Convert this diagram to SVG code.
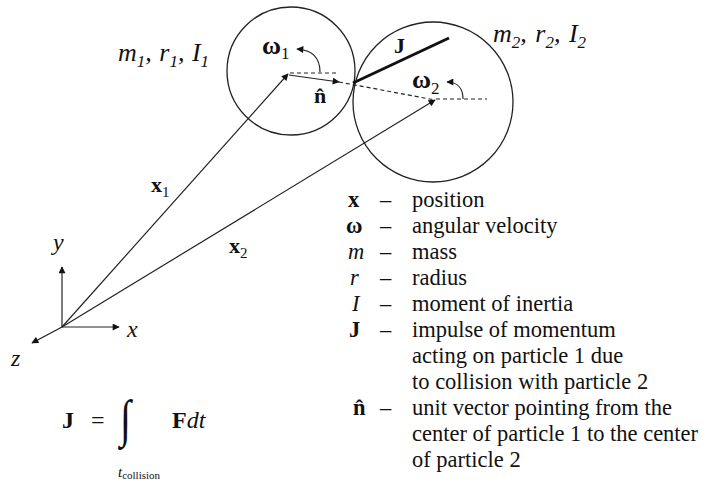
<svg xmlns="http://www.w3.org/2000/svg" width="709" height="489" viewBox="0 0 709 489" font-family="'Liberation Serif', 'DejaVu Serif', serif">
<style>
  text { font-family: 'Liberation Serif', 'DejaVu Serif', serif; fill: #111; }
  .it { font-style: italic; }
  .b { font-weight: bold; }
  .lg { font-size: 22.5px; }
  .ln { stroke: #222; stroke-width: 1.2; fill: none; }
  .dash { stroke: #222; stroke-width: 1.2; fill: none; stroke-dasharray: 4 3; }
  .circ { stroke: #222; stroke-width: 1.3; fill: none; }
</style>
<defs>
  <marker id="ah" viewBox="0 0 10 10" refX="9" refY="5" markerWidth="9" markerHeight="7" markerUnits="userSpaceOnUse" orient="auto">
    <path d="M0,0 L10,5 L0,10 z" fill="#111"/>
  </marker>
</defs>
<rect width="709" height="489" fill="#fff"/>

<g id="particle1">
  <circle class="circ" cx="291" cy="71" r="64"/>
  <text x="118" y="61" font-size="26" class="it">m<tspan font-size="17" dy="6">1</tspan><tspan dy="-6">, </tspan><tspan dx="1">r</tspan><tspan font-size="17" dy="6">1</tspan><tspan dy="-6">, </tspan><tspan dx="1">I</tspan><tspan font-size="17" dy="6">1</tspan></text>
  <text x="262" y="54" font-size="26" class="b">ω<tspan font-size="17" font-weight="normal" dy="5">1</tspan></text>
  <text x="314" y="103" font-size="22" class="b">n̂</text>
</g>

<g id="particle2">
  <circle class="circ" cx="433" cy="102" r="80"/>
  <text x="493" y="42" font-size="26" class="it">m<tspan font-size="17" dy="6">2</tspan><tspan dy="-6">, </tspan><tspan dx="2">r</tspan><tspan font-size="17" dy="6">2</tspan><tspan dy="-6">, </tspan><tspan dx="2">I</tspan><tspan font-size="17" dy="6">2</tspan></text>
  <text x="412" y="88" font-size="26" class="b">ω<tspan font-size="17" font-weight="normal" dy="6">2</tspan></text>
  <text x="394" y="53" font-size="22" class="b">J</text>
</g>

<g id="axes">
  <line class="ln" x1="62" y1="327" x2="62" y2="267" marker-end="url(#ah)"/>
  <line class="ln" x1="62" y1="327" x2="119" y2="327" marker-end="url(#ah)"/>
  <line class="ln" x1="62" y1="327" x2="32" y2="343" marker-end="url(#ah)"/>
  <text x="53" y="250" font-size="24" class="it">y</text>
  <text x="127" y="337" font-size="24" class="it">x</text>
  <text x="11" y="366" font-size="24" class="it">z</text>
</g>

<g id="connectors">
  <line class="ln" x1="62" y1="327" x2="288" y2="74" marker-end="url(#ah)"/>
  <line class="ln" x1="62" y1="327" x2="435" y2="100" marker-end="url(#ah)"/>
  <line class="dash" x1="290" y1="73" x2="336" y2="73"/>
  <line class="ln" x1="289" y1="75" x2="339" y2="82" marker-end="url(#ah)"/>
  <line class="dash" x1="339" y1="82" x2="435" y2="100"/>
  <line class="dash" x1="436" y1="99" x2="487" y2="99"/>
  <line x1="353" y1="83" x2="449" y2="38" stroke="#111" stroke-width="3"/>
  <path class="ln" d="M320,72 C320,58 312,50 297,49" marker-end="url(#ah)"/>
  <path class="ln" d="M463,99 C463,88 457,82 447,82" marker-end="url(#ah)"/>
  <text x="151" y="192" font-size="22" class="b">x<tspan font-size="15" font-weight="normal" dy="5">1</tspan></text>
  <text x="229" y="253" font-size="22" class="b">x<tspan font-size="15" font-weight="normal" dy="5">2</tspan></text>
</g>

<g id="legend" class="lg">
  <text x="348" y="207" class="b lg">x</text>
  <text x="346" y="233" class="b lg">ω</text>
  <text x="348" y="259" class="it lg">m</text>
  <text x="350" y="285" class="it lg">r</text>
  <text x="352" y="311" class="it lg">I</text>
  <text x="349" y="337" class="b lg">J</text>
  <text x="353" y="415" class="b lg">n̂</text>
  <text x="380" y="207" class="lg">–</text>
  <text x="380" y="233" class="lg">–</text>
  <text x="380" y="259" class="lg">–</text>
  <text x="380" y="285" class="lg">–</text>
  <text x="380" y="311" class="lg">–</text>
  <text x="380" y="337" class="lg">–</text>
  <text x="380" y="415" class="lg">–</text>
  <text x="412" y="207" class="lg">position</text>
  <text x="412" y="233" class="lg">angular velocity</text>
  <text x="412" y="259" class="lg">mass</text>
  <text x="412" y="285" class="lg">radius</text>
  <text x="412" y="311" class="lg">moment of inertia</text>
  <text x="412" y="337" class="lg">impulse of momentum</text>
  <text x="412" y="363" class="lg">acting on particle 1 due</text>
  <text x="412" y="389" class="lg">to collision with particle 2</text>
  <text x="412" y="415" class="lg">unit vector pointing from the</text>
  <text x="412" y="441" class="lg">center of particle 1 to the center</text>
  <text x="412" y="467" class="lg">of particle 2</text>
</g>

<g id="formula">
  <text x="62" y="428" font-size="24" class="b">J</text>
  <text x="91" y="428" font-size="24">=</text>
  <text x="0" y="0" font-size="40" transform="translate(120,436) scale(1,1.3)">∫</text>
  <text x="172" y="428" font-size="24"><tspan font-weight="bold">F</tspan><tspan font-style="italic">dt</tspan></text>
  <text x="118" y="477" font-size="15" class="it">t<tspan font-size="11" font-style="normal" dy="2">collision</tspan></text>
</g>
</svg>
